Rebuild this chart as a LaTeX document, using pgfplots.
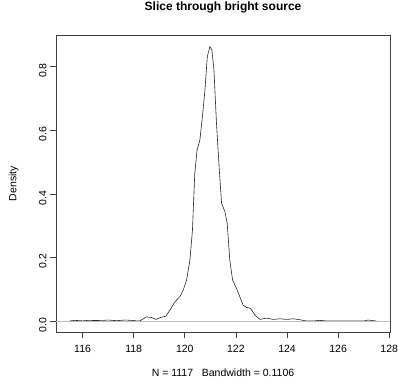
\documentclass[border=0pt]{standalone}
\usepackage{pgfplots}
\pgfplotsset{compat=1.18}
\usepackage{fontspec}
\setmainfont{Liberation Sans}
\pgfplotstableread{
x y
115.48 0
115.7 0.002
116.0 0.0005
116.22 0.002
116.5 0.0015
116.81 0.002
117.0 0.003
117.33 0.001
117.66 0.003
117.92 0.002
118.1 0.0005
118.24 0.0
118.4 0.008
118.5 0.013
118.7 0.011
118.87 0.005
119.09 0.012
119.26 0.015
119.44 0.037
119.61 0.06
119.81 0.077
119.94 0.0975
120.07 0.129
120.20 0.192
120.30 0.286
120.39 0.464
120.48 0.538
120.59 0.569
120.69 0.643
120.79 0.727
120.88 0.831
120.98 0.863
121.06 0.853
121.14 0.79
121.24 0.622
121.35 0.475
121.44 0.37
121.57 0.344
121.66 0.307
121.76 0.192
121.87 0.129
122.02 0.103
122.15 0.077
122.28 0.05
122.41 0.043
122.57 0.040
122.74 0.019
122.94 0.005
123.2 0.009
123.46 0.005
123.72 0.007
123.98 0.005
124.24 0.007
124.5 0.004
124.76 0.0
125.02 0.0
125.28 0.002
125.57 0.0
126.0 0
126.5 0
127.0 0
127.17 0.003
127.5 0.0
}\densitydata
\definecolor{rgray}{HTML}{BEBEBE}
\begin{document}
\begin{tikzpicture}[x=1pt,y=1pt]
\useasboundingbox (0,0) rectangle (398,380);
\begin{axis}[
  at={(56pt,48pt)}, anchor=south west,
  scale only axis, width=334pt, height=297pt,
  xmin=114.96, xmax=128.03,
  ymin=-0.0346, ymax=0.8997,
  xtick={116,118,...,128},
  ytick={0,0.2,0.4,0.6,0.8},
  yticklabels={0.0,0.2,0.4,0.6,0.8},
  tick align=outside, major tick length=6pt,
  xtick pos=bottom, ytick pos=left,
  axis line style={line width=0.6pt, black!75},
  every tick/.style={line width=0.6pt, black!75},
  /pgf/number format/assume math mode=true,
  ticklabel style={font=\fontsize{10.5}{12}\selectfont},
  xticklabel style={yshift=-4pt},
  yticklabel style={rotate=90, anchor=south, xshift=-4pt},
  title={\textbf{Slice through bright source}},
  title style={at={(axis description cs:0.5,1.074)}, anchor=center, font=\fontsize{12}{14}\selectfont},
  xlabel={N = 1117\ \ \ Bandwidth = 0.1106},
  xlabel style={at={(axis description cs:0.5,-0.138)}, anchor=center, font=\fontsize{10.5}{12}\selectfont},
  ylabel={Density},
  ylabel style={at={(axis description cs:-0.127,0.5)}, anchor=center, rotate=0, font=\fontsize{10.5}{12}\selectfont},
  clip=false,
]
\addplot[black!85, line width=0.6pt] table {\densitydata};
\addplot[rgray, line width=0.6pt] coordinates {(114.96,0) (128.03,0)};
\end{axis}
\end{tikzpicture}
\end{document}
